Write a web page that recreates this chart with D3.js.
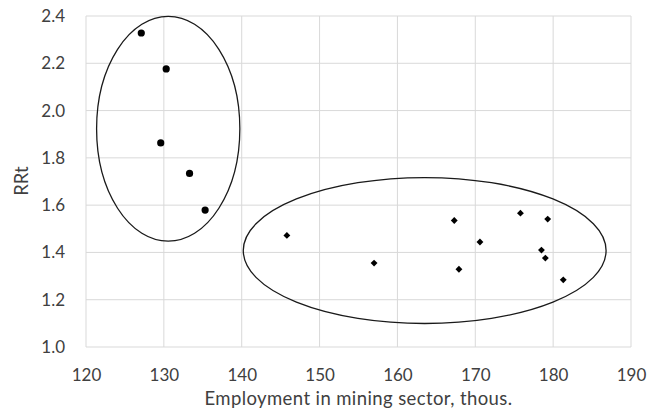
<!DOCTYPE html>
<html>
<head>
<meta charset="utf-8">
<script src="https://cdn.jsdelivr.net/npm/d3@7"></script>
<style>
  body { margin: 0; background: #fff; }
  text { font-family: Lato, "Open Sans", sans-serif; fill: #404040; }
</style>
</head>
<body>
<svg id="chart" width="662" height="416"></svg>
<script>
// group 1: circles (low employment, high RRt)
const groupA_x = [127.1, 130.3, 129.6, 133.3, 135.3];
const groupA_y = [2.328, 2.176, 1.863, 1.734, 1.579];
// group 2: diamonds
const groupB_x = [145.8, 157.0, 167.3, 167.9, 170.6, 175.8, 179.3, 178.5, 179.0, 181.3];
const groupB_y = [1.472, 1.355, 1.535, 1.329, 1.444, 1.566, 1.541, 1.410, 1.376, 1.284];
// ellipses around clusters: [cx, cy, rx, ry] in data units
const ellipseA = [130.56, 1.923, 9.2, 0.4755];
const ellipseB = [163.5, 1.408, 23.3, 0.3085];

const xTicks = [120, 130, 140, 150, 160, 170, 180, 190];
const yTicks = [1.0, 1.2, 1.4, 1.6, 1.8, 2.0, 2.2, 2.4];

const svg = d3.select("#chart");
const margin = {left: 86, right: 31, top: 16, bottom: 69};
const width = +svg.attr("width"), height = +svg.attr("height");

const x = d3.scaleLinear().domain([120, 190]).range([margin.left, width - margin.right]);
const y = d3.scaleLinear().domain([1.0, 2.4]).range([height - margin.bottom, margin.top]);

// grid
svg.append("g").selectAll("line.vx")
  .data(xTicks).enter().append("line")
  .attr("x1", d => x(d)).attr("x2", d => x(d))
  .attr("y1", y(1.0)).attr("y2", y(2.4))
  .attr("stroke", "#d9d9d9").attr("stroke-width", 1);
svg.append("g").selectAll("line.hy")
  .data(yTicks).enter().append("line")
  .attr("x1", x(120)).attr("x2", x(190))
  .attr("y1", d => y(d)).attr("y2", d => y(d))
  .attr("stroke", "#d9d9d9").attr("stroke-width", 1);

// axes (labels only)
const xAxis = svg.append("g")
  .attr("transform", `translate(0,${y(1.0)})`)
  .call(d3.axisBottom(x).tickValues(xTicks).tickSize(0).tickPadding(22).tickFormat(d3.format("d")));
xAxis.select(".domain").remove();
xAxis.selectAll("text").style("font-size", "17px").style("fill", "#404040").style("font-family", "Lato, sans-serif");

const yAxis = svg.append("g")
  .attr("transform", `translate(${x(120)},0)`)
  .call(d3.axisLeft(y).tickValues(yTicks).tickSize(0).tickPadding(21).tickFormat(d3.format(".1f")));
yAxis.select(".domain").remove();
yAxis.selectAll("text").style("font-size", "17px").style("fill", "#404040").style("font-family", "Lato, sans-serif");

// axis titles
svg.append("text")
  .attr("x", (x(120) + x(190)) / 2).attr("y", 405)
  .attr("text-anchor", "middle").style("font-size", "18.5px").style("letter-spacing", "0.4px")
  .text("Employment in mining sector, thous.");
svg.append("text")
  .attr("transform", `translate(27.5,181) rotate(-90)`)
  .attr("text-anchor", "middle").style("font-size", "18.5px")
  .text("RRt");

// ellipses
[ellipseA, ellipseB].forEach(e => {
  svg.append("ellipse")
    .attr("cx", x(e[0])).attr("cy", y(e[1]))
    .attr("rx", x(e[0] + e[2]) - x(e[0]))
    .attr("ry", y(e[1]) - y(e[1] + e[3]))
    .attr("fill", "none").attr("stroke", "#1a1a1a").attr("stroke-width", 1.3);
});

// points
svg.append("g").selectAll("circle")
  .data(d3.zip(groupA_x, groupA_y)).enter().append("circle")
  .attr("cx", d => x(d[0])).attr("cy", d => y(d[1]))
  .attr("r", 3.6).attr("fill", "#000");

svg.append("g").selectAll("path")
  .data(d3.zip(groupB_x, groupB_y)).enter().append("path")
  .attr("transform", d => `translate(${x(d[0])},${y(d[1])})`)
  .attr("d", d3.symbol(d3.symbolDiamond2, 30))
  .attr("fill", "#000");
</script>
</body>
</html>
